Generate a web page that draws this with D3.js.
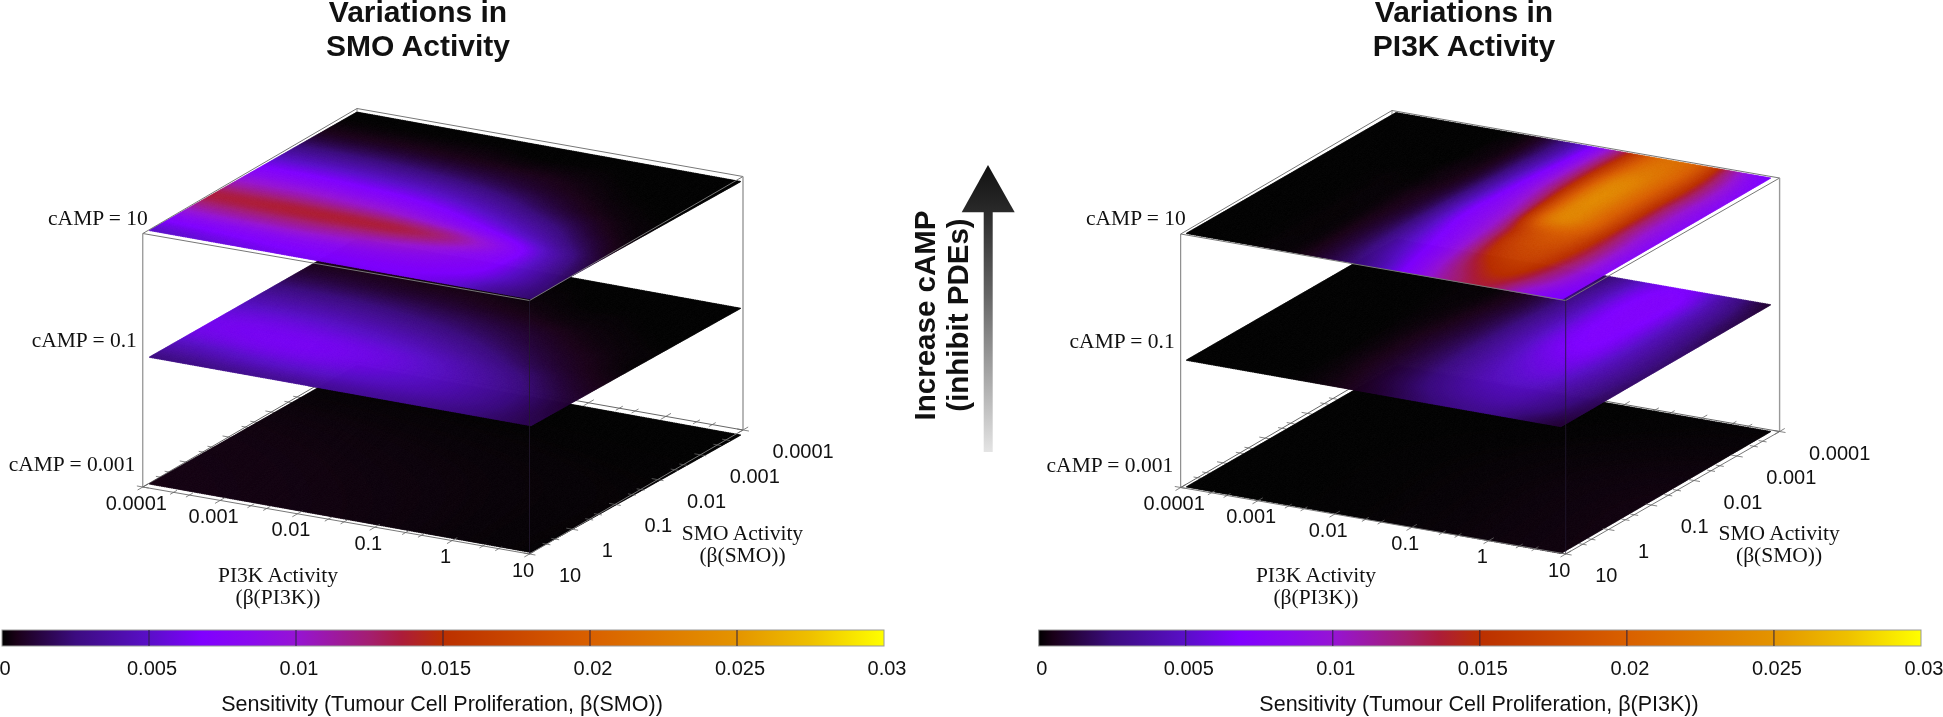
<!DOCTYPE html>
<html>
<head>
<meta charset="utf-8">
<title>Sensitivity planes</title>
<script src="https://cdnjs.cloudflare.com/ajax/libs/d3/7.8.5/d3.min.js"></script>
<style>
  html, body { margin: 0; background: #fff; overflow: hidden; }
  svg, canvas { position: absolute; left: 0; top: 0; }
</style>
</head>
<body>
<script>
// values, rows go SMO 1e-4 -> 10, columns go PI3K 1e-4 -> 10 (half decade steps)
var smoTop = [
  [0,0,0,0,0,0,0,0,0,0,0],
  [.0002,.0002,.0002,.0002,.0002,.0001,.0001,.0001,0,0,0],
  [.0009,.0009,.0009,.0008,.0007,.0006,.0005,.0003,.0001,0,0],
  [.0027,.0027,.0026,.0024,.0021,.0017,.0012,.0007,.0003,.0001,0],
  [.0052,.0052,.0051,.0048,.0044,.0037,.0028,.0017,.0008,.0003,.0001],
  [.0078,.0078,.0077,.0074,.0070,.0062,.0050,.0036,.0022,.0008,.0002],
  [.0108,.0108,.0108,.0105,.0101,.0092,.0079,.0062,.0042,.0020,.0005],
  [.0135,.0136,.0137,.0137,.0136,.0133,.0122,.0100,.0072,.0038,.0012],
  [.0110,.0112,.0113,.0113,.0110,.0105,.0097,.0085,.0072,.0044,.0018],
  [.0074,.0076,.0078,.0080,.0080,.0080,.0078,.0074,.0066,.0044,.0022],
  [.0050,.0054,.0058,.0062,.0064,.0065,.0066,.0064,.0054,.0034,.0022]
];
var smoMid = [
  [0,0,0,0,0,0,0,0,0,0,0],
  [.0001,.0001,.0001,.0001,.0001,.0001,.0001,0,0,0,0],
  [.0005,.0005,.0005,.0004,.0004,.0003,.0002,.0001,.0001,0,0],
  [.0012,.0012,.0011,.0010,.0009,.0007,.0005,.0003,.0002,.0001,0],
  [.0025,.0025,.0024,.0022,.0019,.0016,.0012,.0008,.0004,.0002,.0001],
  [.0040,.0040,.0039,.0036,.0032,.0027,.0021,.0014,.0008,.0004,.0001],
  [.0054,.0055,.0054,.0051,.0047,.0041,.0033,.0024,.0014,.0007,.0003],
  [.0062,.0063,.0063,.0062,.0059,.0054,.0046,.0036,.0025,.0013,.0006],
  [.0058,.0060,.0062,.0062,.0060,.0056,.0050,.0042,.0032,.0020,.0010],
  [.0042,.0044,.0048,.0050,.0050,.0048,.0045,.0040,.0032,.0022,.0013],
  [.0025,.0027,.0029,.0031,.0032,.0033,.0033,.0031,.0027,.0021,.0016]
];
var smoLow = [
  [0,0,0],
  [.0003,.0002,.0001],
  [.0004,.0003,.0001]
];
var pi3kTop = [
  [0,0,0,0,.0010,.0052,.0125,.0208,.0200,.0115,.0065],
  [0,0,0,.0001,.0010,.0055,.0130,.0216,.0205,.0125,.0075],
  [0,0,0,.0001,.0011,.0060,.0132,.0232,.0205,.0128,.0080],
  [0,0,0,.0002,.0012,.0064,.0130,.0236,.0205,.0125,.0080],
  [0,0,.0001,.0002,.0014,.0066,.0122,.0234,.0205,.0125,.0080],
  [0,0,.0001,.0003,.0016,.0068,.0112,.0226,.0205,.0125,.0080],
  [0,0,.0001,.0003,.0017,.0066,.0104,.0180,.0188,.0128,.0080],
  [0,0,.0001,.0003,.0018,.0060,.0098,.0165,.0175,.0128,.0080],
  [0,0,.0001,.0003,.0018,.0054,.0092,.0150,.0165,.0122,.0080],
  [0,0,.0001,.0003,.0017,.0046,.0086,.0132,.0150,.0112,.0075],
  [0,0,.0001,.0003,.0015,.0036,.0078,.0118,.0135,.0096,.0065]
];
var pi3kMid = [
  [0,0,0,0,.0001,.0007,.0030,.0062,.0064,.0032,.0010],
  [0,0,0,0,.0002,.0010,.0034,.0066,.0069,.0037,.0014],
  [0,0,0,.0001,.0002,.0012,.0036,.0067,.0069,.0039,.0016],
  [0,0,0,.0001,.0003,.0013,.0037,.0066,.0068,.0040,.0018],
  [0,0,0,.0001,.0004,.0015,.0038,.0065,.0067,.0041,.0020],
  [0,0,0,.0001,.0005,.0016,.0038,.0062,.0065,.0041,.0021],
  [0,0,0,.0001,.0006,.0017,.0036,.0056,.0060,.0040,.0021],
  [0,0,0,.0001,.0006,.0017,.0034,.0050,.0054,.0037,.0020],
  [0,0,0,.0001,.0006,.0016,.0031,.0044,.0046,.0033,.0018],
  [0,0,0,.0001,.0005,.0014,.0026,.0036,.0039,.0028,.0015],
  [0,0,0,.0001,.0004,.0010,.0019,.0027,.0030,.0020,.0011]
];
var pi3kLow = [
  [0,0,.0001],
  [0,.0001,.0003],
  [0,.0001,.0003]
];

var cAmpLevels = [10, 0.1, 0.001];
var cAmpLabels = ["cAMP = 10", "cAMP = 0.1", "cAMP = 0.001"];
var activityTicks = [0.0001, 0.001, 0.01, 0.1, 1, 10];
var activityLabels = ["0.0001", "0.001", "0.01", "0.1", "1", "10"];
var minorFactors = [2.5, 4];
var barTicks = [0, 0.005, 0.01, 0.015, 0.02, 0.025, 0.03];
var barLabels = ["0", "0.005", "0.01", "0.015", "0.02", "0.025", "0.03"];
var paletteStops = [0, 0.0005, 0.0025, 0.005, 0.0068, 0.0085, 0.01, 0.0125, 0.0136, 0.015, 0.02, 0.025, 0.0275, 0.03];
var paletteColors = ["#000000", "#1a0018", "#3c0c80", "#5a0fc8", "#8000ff", "#8a0aee", "#9614d4", "#a41e70", "#ac1c3a", "#bb3000", "#d96000", "#e49400", "#eec000", "#ffff00"];

var width = 1943, height = 717;

var color = d3.scaleLinear().domain(paletteStops).range(paletteColors).clamp(true);
var activity = d3.scaleLog().domain([0.0001, 10]).range([0, 1]);
var lift = d3.scaleLog().domain([10, 0.001]).range([0, 253.5]);

var panels = [
  {
    title: ["Variations in", "SMO Activity"], titleX: 418, barX: [2, 884],
    barTitle: "Sensitivity (Tumour Cell Proliferation, \u03b2(SMO))", barTitleX: 442,
    grids: [smoTop, smoMid, smoLow],
    plane: {back: [357, 112], right: [741, 181.5], front: [531, 299], left: [149, 230.5]},
    box: {back: [357, 108.5], right: [743, 176.5], front: [529.5, 300.5], left: [142.8, 233.5]}
  },
  {
    title: ["Variations in", "PI3K Activity"], titleX: 1464, barX: [1038.7, 1921],
    barTitle: "Sensitivity (Tumour Cell Proliferation, \u03b2(PI3K))", barTitleX: 1479,
    grids: [pi3kTop, pi3kMid, pi3kLow],
    plane: {back: [1396, 112.5], right: [1771, 178], front: [1561, 300], left: [1186, 233.5]},
    box: {back: [1392, 110.5], right: [1779.6, 178], front: [1565.7, 300.5], left: [1180.7, 234]}
  }
];

var under = d3.select("body").append("svg").attr("width", width).attr("height", height);
var canvas = d3.select("body").append("canvas").attr("width", width).attr("height", height);
var over = d3.select("body").append("svg").attr("width", width).attr("height", height);
var ctx = canvas.node().getContext("2d");

// point on a quad, u along PI3K, v along SMO
function quadPoint(q, u, v, dy) {
  var x0 = q.back[0] + u * (q.right[0] - q.back[0]), y0 = q.back[1] + u * (q.right[1] - q.back[1]);
  var x1 = q.left[0] + u * (q.front[0] - q.left[0]), y1 = q.left[1] + u * (q.front[1] - q.left[1]);
  return [x0 + v * (x1 - x0), y0 + v * (y1 - y0) + dy];
}

function catmull(a, b, c, d, t) {
  return 0.5 * (2 * b + (c - a) * t + (2 * a - 5 * b + 4 * c - d) * t * t + (3 * b - a - 3 * c + d) * t * t * t);
}

// smooth shading between the read values, like pm3d interpolate
function shade(grid, u, v) {
  var nr = grid.length - 1, nc = grid[0].length - 1;
  var fr = Math.min(v * nr, nr - 1e-6), fc = Math.min(u * nc, nc - 1e-6);
  var r = Math.floor(fr), c = Math.floor(fc), vals = [];
  for (var k = -1; k <= 2; k++) {
    var row = grid[Math.max(0, Math.min(nr, r + k))];
    vals.push(catmull(row[Math.max(0, c - 1)], row[c], row[c + 1], row[Math.min(nc, c + 2)], fc - c));
  }
  return Math.max(0, catmull(vals[0], vals[1], vals[2], vals[3], fr - r));
}

function drawPlane(p, idx) {
  var n = 220, dy = lift(cAmpLevels[idx]), grid = p.grids[idx];
  ctx.lineWidth = 0.6;
  for (var i = 0; i < n; i++) {
    for (var j = 0; j < n; j++) {
      var a = quadPoint(p.plane, i / n, j / n, dy), b = quadPoint(p.plane, (i + 1) / n, j / n, dy);
      var c = quadPoint(p.plane, (i + 1) / n, (j + 1) / n, dy), d = quadPoint(p.plane, i / n, (j + 1) / n, dy);
      var col = color(shade(grid, (i + 0.5) / n, (j + 0.5) / n));
      ctx.fillStyle = col;
      ctx.strokeStyle = col;
      ctx.beginPath();
      ctx.moveTo(a[0], a[1]); ctx.lineTo(b[0], b[1]); ctx.lineTo(c[0], c[1]); ctx.lineTo(d[0], d[1]);
      ctx.closePath();
      ctx.fill();
      ctx.stroke();
    }
  }
}

function seg(g, a, b, col, w) {
  g.append("line").attr("x1", a[0]).attr("y1", a[1]).attr("x2", b[0]).attr("y2", b[1])
    .attr("stroke", col).attr("stroke-width", w);
}

function edgeTicks(g, q, dy, fn, dir) {
  var ticks = [];
  activityTicks.forEach(function (t, i) {
    ticks.push({v: t, major: true});
    if (i < activityTicks.length - 1) minorFactors.forEach(function (m) { ticks.push({v: t * m, major: false}); });
  });
  ticks.forEach(function (t) {
    var s = activity(t.v), p = fn(s), len = t.major ? 6 : 4;
    var q0 = quadPoint(q, p[0], p[1], dy);
    var ux = dir === "u" ? q.right[0] - q.back[0] : q.left[0] - q.back[0];
    var uy = dir === "u" ? q.right[1] - q.back[1] : q.left[1] - q.back[1];
    var l = Math.sqrt(ux * ux + uy * uy);
    seg(g, [q0[0] - ux / l * len, q0[1] - uy / l * len], [q0[0] + ux / l * len, q0[1] + uy / l * len], "#666", 0.8);
  });
}

function drawPanel(p) {
  var box = p.box, base = lift(0.001);
  // edges and ticks that the planes hide
  seg(under, quadPoint(box, 0, 1, base), quadPoint(box, 0, 0, base), "#666", 1);
  seg(under, quadPoint(box, 0, 0, base), quadPoint(box, 1, 0, base), "#666", 1);
  seg(under, quadPoint(box, 0, 0, 0), quadPoint(box, 0, 0, base), "#888", 1);
  edgeTicks(under, box, base, function (s) { return [0, s]; }, "u");
  edgeTicks(under, box, base, function (s) { return [s, 0]; }, "v");

  cAmpLevels.slice().reverse().forEach(function (lev, i) { drawPlane(p, cAmpLevels.length - 1 - i); });

  // top rectangle
  seg(over, quadPoint(box, 0, 0, 0), quadPoint(box, 1, 0, 0), "#777", 1);
  seg(over, quadPoint(box, 1, 0, 0), quadPoint(box, 1, 1, 0), "#777", 1);
  seg(over, quadPoint(box, 1, 1, 0), quadPoint(box, 0, 1, 0), "#777", 1);
  seg(over, quadPoint(box, 0, 1, 0), quadPoint(box, 0, 0, 0), "#777", 1);
  // verticals
  seg(over, quadPoint(box, 0, 1, 0), quadPoint(box, 0, 1, base), "#777", 1);
  seg(over, quadPoint(box, 1, 0, 0), quadPoint(box, 1, 0, base), "#999", 1.4);
  seg(over, quadPoint(box, 1, 1, 0), quadPoint(box, 1, 1, base), "#22182e", 0.8);
  // base front edges
  seg(over, quadPoint(box, 0, 1, base), quadPoint(box, 1, 1, base), "#777", 1);
  seg(over, quadPoint(box, 1, 1, base), quadPoint(box, 1, 0, base), "#777", 1);
  edgeTicks(over, box, base, function (s) { return [s, 1]; }, "v");
  edgeTicks(over, box, base, function (s) { return [1, s]; }, "u");

  // tick labels
  over.append("g").selectAll("text").data(activityTicks).enter().append("text")
    .attr("x", function (d) { return quadPoint(box, activity(d), 1, base)[0] - 6.5; })
    .attr("y", function (d) { return quadPoint(box, activity(d), 1, base)[1] + 22.5; })
    .attr("text-anchor", "middle").attr("class", "tick")
    .text(function (d, i) { return activityLabels[i]; });
  over.append("g").selectAll("text").data(activityTicks).enter().append("text")
    .attr("x", function (d) { return quadPoint(box, 1, activity(d), base)[0] + 29.5; })
    .attr("y", function (d) { return quadPoint(box, 1, activity(d), base)[1] + 28; })
    .attr("text-anchor", "start").attr("class", "tick")
    .text(function (d, i) { return activityLabels[i]; });

  // axis names
  var lx = box.left[0] + 135.2, rx = box.right[0] - 0.5;
  serif(lx, 582, "PI3K Activity", "middle");
  serif(lx, 604, "(\u03b2(PI3K))", "middle");
  serif(rx, 540, "SMO Activity", "middle");
  serif(rx, 562, "(\u03b2(SMO))", "middle");

  // plane labels
  var offX = [5, -6, -7.5], offY = [-9, -13, -16];
  cAmpLevels.forEach(function (lev, i) {
    var c = quadPoint(box, 0, 1, lift(lev));
    serif(c[0] + offX[i], c[1] + offY[i], cAmpLabels[i], "end");
  });

  // title
  p.title.forEach(function (t, i) {
    over.append("text").attr("x", p.titleX).attr("y", 21.5 + i * 34)
      .attr("text-anchor", "middle").attr("class", "bold").attr("font-size", 30).text(t);
  });

  drawBar(p);
}

function serif(x, y, t, anchor) {
  over.append("text").attr("x", x).attr("y", y).attr("text-anchor", anchor).attr("class", "serif").text(t);
}

var gradId = 0;
function drawBar(p) {
  var bar = d3.scaleLinear().domain([0, 0.03]).range(p.barX);
  var id = "bar" + (gradId++);
  var grad = over.append("defs").append("linearGradient").attr("id", id);
  paletteStops.forEach(function (s, i) {
    grad.append("stop").attr("offset", s / 0.03).attr("stop-color", paletteColors[i]);
  });
  over.append("rect").attr("x", p.barX[0]).attr("y", 630).attr("width", p.barX[1] - p.barX[0]).attr("height", 16)
    .attr("fill", "url(#" + id + ")").attr("stroke", "#999").attr("stroke-width", 1);
  barTicks.slice(1, -1).forEach(function (t) {
    seg(over, [bar(t), 630], [bar(t), 646], "#2a2040", 1);
  });
  var axis = d3.axisBottom(bar).tickValues(barTicks).tickSize(0)
    .tickFormat(function (d, i) { return barLabels[i]; });
  var g = over.append("g").attr("transform", "translate(2.5,658)").call(axis);
  g.select(".domain").remove();
  g.selectAll("text").attr("class", "tick").attr("fill", "#111").attr("font-size", null).attr("font-family", null);
  g.attr("font-size", null).attr("font-family", null);
  over.append("text").attr("x", p.barTitleX).attr("y", 711).attr("text-anchor", "middle")
    .attr("class", "barlabel").text(p.barTitle);
}

under.append("rect").attr("width", width).attr("height", height).attr("fill", "#fff");
over.append("style").text(
  "text { fill: #111; }" +
  ".tick { font: 20px 'Liberation Sans', Arial, sans-serif; }" +
  ".barlabel { font: 21.5px 'Liberation Sans', Arial, sans-serif; }" +
  ".serif { font: 21.5px 'Liberation Serif', 'Times New Roman', serif; }" +
  ".bold { font-family: 'Liberation Sans', Arial, sans-serif; font-weight: bold; }"
);

panels.forEach(drawPanel);

// middle arrow
var defs = over.append("defs");
var shaft = defs.append("linearGradient").attr("id", "shaftFill").attr("x1", 0).attr("y1", 0).attr("x2", 0).attr("y2", 1);
shaft.append("stop").attr("offset", 0).attr("stop-color", "#2a2a2a");
shaft.append("stop").attr("offset", 0.35).attr("stop-color", "#666");
shaft.append("stop").attr("offset", 1).attr("stop-color", "#e4e4e4");
var head = defs.append("linearGradient").attr("id", "headFill").attr("x1", 0).attr("y1", 0).attr("x2", 0).attr("y2", 1);
head.append("stop").attr("offset", 0).attr("stop-color", "#111");
head.append("stop").attr("offset", 1).attr("stop-color", "#2a2a2a");
over.append("rect").attr("x", 983.7).attr("y", 212).attr("width", 9).attr("height", 240).attr("fill", "url(#shaftFill)");
over.append("polygon").attr("points", "988,165 1014.7,212.3 961.7,212.3").attr("fill", "url(#headFill)");
over.append("text").attr("transform", "translate(935,315.5) rotate(-90)").attr("text-anchor", "middle")
  .attr("class", "bold").attr("font-size", 29.5).text("Increase cAMP");
over.append("text").attr("transform", "translate(968,315) rotate(-90)").attr("text-anchor", "middle")
  .attr("class", "bold").attr("font-size", 29.5).text("(inhibit PDEs)");
</script>
</body>
</html>
